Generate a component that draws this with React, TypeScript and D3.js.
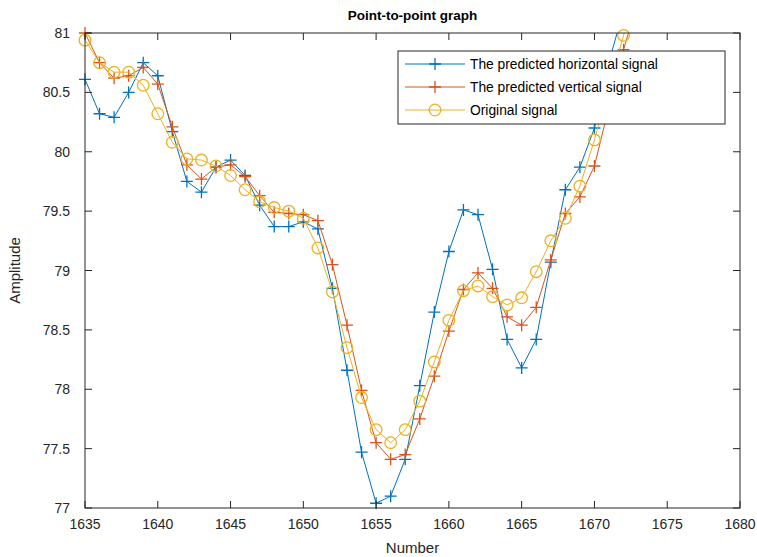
import React from 'react';
import * as d3 from 'd3';

// sample numbers on the x axis (1673 lies above the top edge and is clipped)
const numbers = [
  1635, 1636, 1637, 1638, 1639, 1640, 1641, 1642, 1643, 1644,
  1645, 1646, 1647, 1648, 1649, 1650, 1651, 1652, 1653, 1654,
  1655, 1656, 1657, 1658, 1659, 1660, 1661, 1662, 1663, 1664,
  1665, 1666, 1667, 1668, 1669, 1670, 1671, 1672, 1673,
];

const horizontal = [
  80.61, 80.32, 80.29, 80.50, 80.75, 80.64, 80.17, 79.75, 79.66, 79.87,
  79.93, 79.80, 79.55, 79.37, 79.37, 79.41, 79.35, 78.85, 78.16, 77.47,
  77.04, 77.10, 77.41, 78.03, 78.65, 79.16, 79.51, 79.47, 79.01, 78.42,
  78.18, 78.42, 79.07, 79.68, 79.87, 80.20, 80.76, 81.19, 81.6,
];

const vertical = [
  81.00, 80.75, 80.62, 80.64, 80.71, 80.57, 80.21, 79.89, 79.77, 79.87,
  79.89, 79.79, 79.63, 79.49, 79.48, 79.47, 79.42, 79.05, 78.54, 77.99,
  77.55, 77.41, 77.45, 77.75, 78.11, 78.49, 78.84, 78.98, 78.85, 78.61,
  78.54, 78.69, 79.09, 79.48, 79.62, 79.88, 80.38, 80.86, 81.28,
];

const original = [
  80.94, 80.75, 80.67, 80.67, 80.56, 80.32, 80.08, 79.94, 79.93, 79.88,
  79.80, 79.68, 79.58, 79.53, 79.50, 79.44, 79.19, 78.82, 78.35, 77.93,
  77.66, 77.55, 77.66, 77.90, 78.23, 78.58, 78.83, 78.87, 78.78, 78.71,
  78.77, 78.99, 79.25, 79.44, 79.71, 80.10, 80.55, 80.98, 81.35,
];

const xTicks = [1635, 1640, 1645, 1650, 1655, 1660, 1665, 1670, 1675, 1680];
const yTicks = [77, 77.5, 78, 78.5, 79, 79.5, 80, 80.5, 81];

const seriesNames = [
  'The predicted horizontal signal',
  'The predicted vertical signal',
  'Original signal',
];

const W = 757;
const H = 557;
const margin = { top: 33, right: 17, bottom: 49, left: 85 };
const font = 'Helvetica, Arial, "Liberation Sans", sans-serif';
const axisColor = '#262626';

const series = [
  { name: seriesNames[0], values: horizontal, color: '#0072BD', marker: 'plus' },
  { name: seriesNames[1], values: vertical, color: '#D95319', marker: 'plus' },
  { name: seriesNames[2], values: original, color: '#EDB120', marker: 'circle' },
];

const Marker = ({ kind, x, y, color }: { kind: string; x: number; y: number; color: string }) =>
  kind === 'plus' ? (
    <path d={`M${x - 6},${y}H${x + 6}M${x},${y - 6}V${y + 6}`} stroke={color} strokeWidth={1.3} fill="none" />
  ) : (
    <circle cx={x} cy={y} r={5.8} stroke={color} strokeWidth={1.3} fill="none" />
  );

export default function App() {
  const x = d3.scaleLinear().domain([1635, 1680]).range([margin.left, W - margin.right]);
  const y = d3.scaleLinear().domain([77, 81]).range([H - margin.bottom, margin.top]);
  const x0 = x.range()[0], x1 = x.range()[1];
  const y0 = y.range()[0], y1 = y.range()[1];

  const line = d3.line<number>()
    .x((_, i) => x(numbers[i]))
    .y(d => y(d));

  const tickLen = 7;
  const legend = { x: 398, y: 51, w: 327, h: 73 };

  return (
    <svg width={W} height={H} style={{ position: 'absolute', left: 0, top: 0, background: '#fff' }} fontFamily={font}>
      <defs>
        <clipPath id="plot">
          <rect x={x0} y={y1} width={x1 - x0} height={y0 - y1} />
        </clipPath>
      </defs>

      {/* series */}
      {series.map(s => (
        <g key={s.name}>
          <path d={line(s.values) ?? ''} fill="none" stroke={s.color} strokeWidth={1} clipPath="url(#plot)" />
          {s.values.map((v, i) =>
            v <= 81.001 && v >= 77 ? (
              <Marker key={i} kind={s.marker} x={x(numbers[i])} y={y(v)} color={s.color} />
            ) : null
          )}
        </g>
      ))}

      {/* box */}
      <rect x={x0} y={y1} width={x1 - x0} height={y0 - y1} fill="none" stroke={axisColor} strokeWidth={1} />

      {/* x ticks */}
      {xTicks.map(t => (
        <g key={t}>
          <line x1={x(t)} x2={x(t)} y1={y0} y2={y0 - tickLen} stroke={axisColor} />
          <line x1={x(t)} x2={x(t)} y1={y1} y2={y1 + tickLen} stroke={axisColor} />
          <text x={x(t)} y={y0 + 21} fontSize={14} textAnchor="middle" fill={axisColor}>{t}</text>
        </g>
      ))}

      {/* y ticks */}
      {yTicks.map(t => (
        <g key={t}>
          <line x1={x0} x2={x0 + tickLen} y1={y(t)} y2={y(t)} stroke={axisColor} />
          <line x1={x1} x2={x1 - tickLen} y1={y(t)} y2={y(t)} stroke={axisColor} />
          <text x={x0 - 15} y={y(t) + 5} fontSize={14} textAnchor="end" fill={axisColor}>{t}</text>
        </g>
      ))}

      {/* labels */}
      <text x={(x0 + x1) / 2} y={20} fontSize={13.5} fontWeight="bold" textAnchor="middle" fill="#000">Point-to-point graph</text>
      <text x={(x0 + x1) / 2} y={553} fontSize={15} textAnchor="middle" fill={axisColor}>Number</text>
      <text transform={`translate(20,${(y0 + y1) / 2}) rotate(-90)`} fontSize={15} textAnchor="middle" fill={axisColor}>Amplitude</text>

      {/* legend */}
      <g>
        <rect x={legend.x} y={legend.y} width={legend.w} height={legend.h} fill="#fff" stroke={axisColor} strokeWidth={1} />
        {series.map((s, i) => {
          const ly = legend.y + 13 + i * 23;
          return (
            <g key={s.name}>
              <line x1={legend.x + 7} x2={legend.x + 67} y1={ly} y2={ly} stroke={s.color} strokeWidth={1} />
              <Marker kind={s.marker} x={legend.x + 37} y={ly} color={s.color} />
              <text x={legend.x + 72} y={ly + 5} fontSize={13.8} fill="#000">{s.name}</text>
            </g>
          );
        })}
      </g>
    </svg>
  );
}
